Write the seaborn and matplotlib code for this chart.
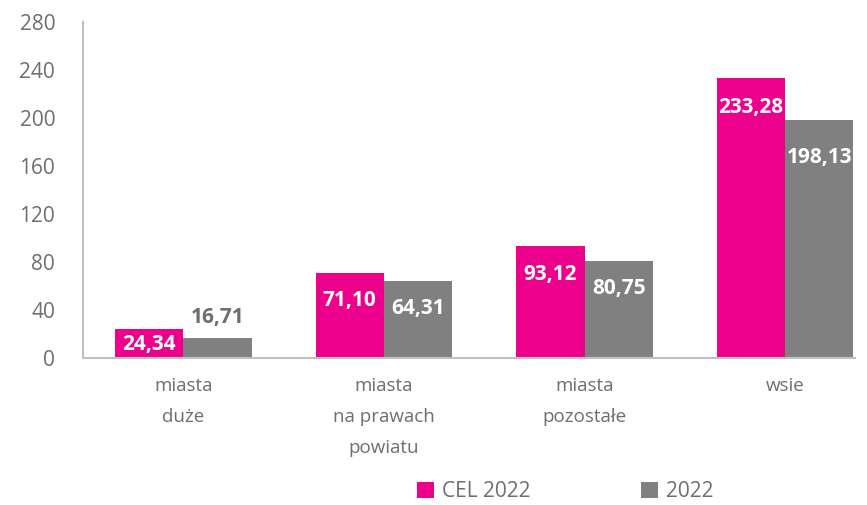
import matplotlib
matplotlib.use("Agg")
import matplotlib.pyplot as plt
import seaborn as sns
import pandas as pd

categories = ["miasta\nduże", "miasta\nna prawach\npowiatu", "miasta\npozostałe", "wsie"]
series_names = ["CEL 2022", "2022"]
cel_2022 = [24.34, 71.10, 93.12, 233.28]
rok_2022 = [16.71, 64.31, 80.75, 198.13]
yticks = [0, 40, 80, 120, 160, 200, 240, 280]

PINK = "#EC008C"
GRAY = "#808080"
TEXT = "#6E6E6E"
SPINE = "#C0C0C0"

df = pd.DataFrame({
    "kategoria": categories * 2,
    "wartosc": cel_2022 + rok_2022,
    "seria": [series_names[0]] * 4 + [series_names[1]] * 4,
})

sns.set_theme(style="white")
plt.rcParams['font.family'] = ['Open Sans', 'DejaVu Sans']

fig = plt.figure(figsize=(8.67, 5.05), dpi=100)
ax = fig.add_axes([0.0957, 0.291, 0.8905, 0.665])

sns.barplot(data=df, x="kategoria", y="wartosc", hue="seria", order=categories,
            hue_order=series_names, palette=[PINK, GRAY], width=0.68,
            saturation=1, ax=ax, legend=True, linewidth=0)

ax.set_xlim(-0.5, 3.348)
ax.set_ylim(0, 280)
ax.set_yticks(yticks)
ax.set_yticklabels([str(v) for v in yticks])
ax.set_xlabel("")
ax.set_ylabel("")

for s in ["top", "right"]:
    ax.spines[s].set_visible(False)
for s in ["left", "bottom"]:
    ax.spines[s].set_color(SPINE)
    ax.spines[s].set_linewidth(1.5)

ax.tick_params(axis="y", length=0, labelsize=15, labelcolor=TEXT, pad=20)
ax.tick_params(axis="x", length=0, labelsize=13.5, labelcolor=TEXT, pad=14)
for lab in ax.get_xticklabels():
    lab.set_linespacing(1.9)

def fmt(v):
    return f"{v:.2f}".replace(".", ",")

# label offsets (points): negative = inside bar below top
offsets = {0: [-11, -20, -20, -21], 1: [15, -20, -20, -27]}
for si, cont in enumerate(ax.containers):
    for bi, rect in enumerate(cont):
        h = rect.get_height()
        x = rect.get_x() + rect.get_width() / 2
        off = offsets[si][bi]
        color = "white" if off < 0 else TEXT
        ax.annotate(fmt(h), xy=(x, h), xytext=(0, off), textcoords="offset points",
                    ha="center", va="center", fontsize=15, fontweight="bold", color=color)

handles, labels = ax.get_legend_handles_labels()
ax.get_legend().remove()
fig.legend(handles, labels, loc="center", bbox_to_anchor=(0.652, 0.026), ncol=2,
           frameon=False, fontsize=15, handlelength=0.8, handleheight=0.8,
           handletextpad=0.4, columnspacing=5.3, labelcolor=TEXT)

fig.savefig("out.png", dpi=100)
